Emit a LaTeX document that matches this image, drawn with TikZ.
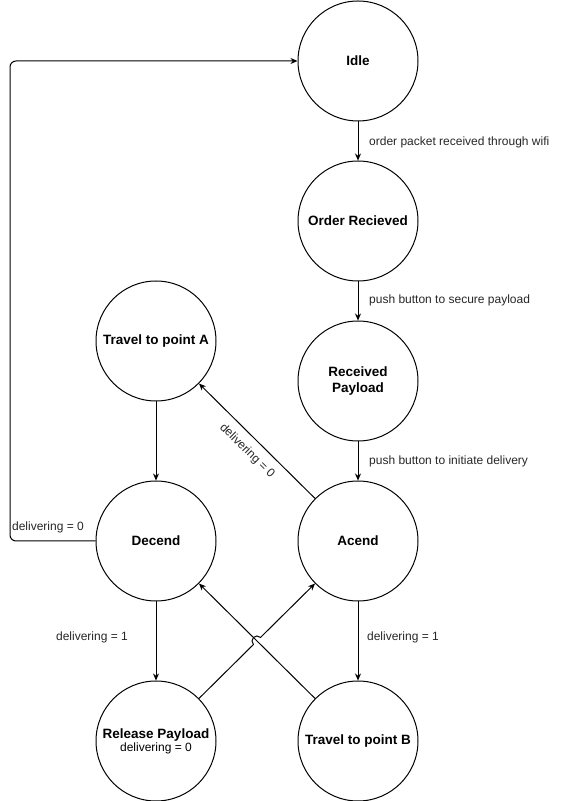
\documentclass[tikz,border=0pt]{standalone}
\usepackage{fontspec}
\setmainfont{Liberation Sans}
\usetikzlibrary{arrows.meta}
\begin{document}
\begin{tikzpicture}[x=1pt,y=1pt,
  state/.style={circle,draw,line width=1pt,minimum size=120pt,inner sep=0pt,align=center,font=\fontsize{13.5}{16}\selectfont\bfseries},
  conn/.style={line width=1pt,-{Stealth[length=7pt,width=6pt]}},
  lbl/.style={font=\fontsize{12}{14}\selectfont,text=black!85,inner sep=1pt}]
\useasboundingbox (0,0) rectangle (568,801);
\node[state] (idle) at (358,740) {Idle};
\node[state] (order) at (358,580) {Order Recieved};
\node[state] (recv) at (358,420) {Received\\Payload};
\node[state] (acend) at (358,260) {Acend};
\node[state] (travb) at (358,60) {Travel to point B};
\node[state] (trava) at (156,460) {Travel to point A};
\node[state] (decend) at (156,260) {Decend};
\node[state] (release) at (156,60) {Release Payload\\[-3pt]{\mdseries\fontsize{12}{14}\selectfont delivering = 0}};
\coordinate (hopA) at (253.45,156.48);
\coordinate (corner1) at (10,260);
\coordinate (corner2) at (10,740);
\draw[conn] (idle) -- (order);
\draw[conn] (order) -- (recv);
\draw[conn] (recv) -- (acend);
\draw[conn] (trava) -- (decend);
\draw[conn] (decend) -- (release);
\draw[conn] (acend) -- (travb);
\draw[conn] (acend) -- (trava);
\draw[conn] (travb) -- (decend);
\draw[conn] (release) -- (hopA) arc[start angle=225,end angle=45,radius=5] -- (acend);
\draw[conn,rounded corners=6pt] (decend.west) -- (corner1) -- (corner2) -- (idle.west);
\node[lbl,anchor=west] (l1) at (368,659) {order packet received through wifi};
\node[lbl,anchor=west] (l2) at (368,501) {push button to secure payload};
\node[lbl,anchor=west] (l3) at (368,340) {push button to initiate delivery};
\node[lbl] (l4) at (92,164) {delivering = 1};
\node[lbl] (l5) at (403,164) {delivering = 1};
\node[lbl] (l6) at (48,274) {delivering = 0};
\node[lbl,rotate=-44.5] (l7) at (247,350) {delivering = 0};
\end{tikzpicture}
\end{document}
